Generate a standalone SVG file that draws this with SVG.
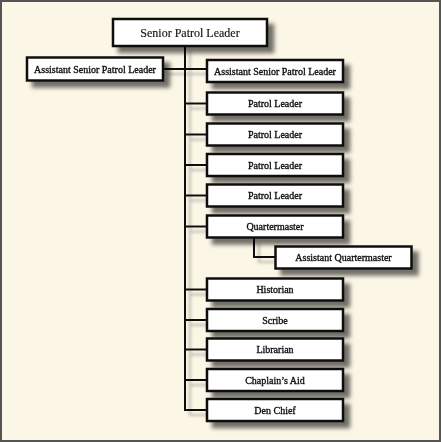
<svg xmlns="http://www.w3.org/2000/svg" width="441" height="442" viewBox="0 0 441 442">
<defs>
<filter id="sh" x="-20%" y="-40%" width="150%" height="200%">
<feDropShadow dx="6" dy="6" stdDeviation="2.2" flood-color="#000" flood-opacity="0.55"/>
</filter>
<filter id="lsh" x="-50%" y="-10%" width="300%" height="130%">
<feDropShadow dx="5" dy="5" stdDeviation="1.5" flood-color="#000" flood-opacity="0.25"/>
</filter>
</defs>
<style>
.box{fill:#fff;stroke:#111;stroke-width:2.5}
.t{font-family:"Liberation Serif","Times New Roman",serif;font-size:10px;fill:#111;stroke:#111;stroke-width:0.35;text-anchor:middle}
.big{font-size:12px;stroke-width:0.15}
.c{fill:none;stroke:#111;stroke-width:2}
</style>
<rect x="1" y="1" width="439" height="440" fill="#FCF6E6" stroke="#555" stroke-width="2"/>
<g id="connectors" filter="url(#lsh)">
<path class="c" d="M185 46V411"/>
<path class="c" d="M163 69H207"/>
<path class="c" d="M185 103.5H207M185 134.5H207M185 165H207M185 195.5H207M185 226.5H207M185 289.5H207M185 320H207M185 349.5H207M185 380H207M185 410H207"/>
<path class="c" d="M254 238V257H275"/>
</g>
<g id="spl" filter="url(#sh)"><rect class="box" x="113" y="19" width="154" height="27"/><text class="t big" x="190" y="36.5">Senior Patrol Leader</text></g>
<g id="aspl1" filter="url(#sh)"><rect class="box" x="27" y="57.5" width="136" height="23"/><text class="t" x="95" y="72.5">Assistant Senior Patrol Leader</text></g>
<g id="aspl2" filter="url(#sh)"><rect class="box" x="207" y="60" width="136" height="22"/><text class="t" x="275" y="74.5">Assistant Senior Patrol Leader</text></g>
<g id="pl1" filter="url(#sh)"><rect class="box" x="207" y="92.5" width="136" height="22"/><text class="t" x="275" y="107">Patrol Leader</text></g>
<g id="pl2" filter="url(#sh)"><rect class="box" x="207" y="123.5" width="136" height="22"/><text class="t" x="275" y="138">Patrol Leader</text></g>
<g id="pl3" filter="url(#sh)"><rect class="box" x="207" y="154" width="136" height="22"/><text class="t" x="275" y="168.5">Patrol Leader</text></g>
<g id="pl4" filter="url(#sh)"><rect class="box" x="207" y="184.5" width="136" height="22"/><text class="t" x="275" y="199">Patrol Leader</text></g>
<g id="qm" filter="url(#sh)"><rect class="box" x="207" y="215.5" width="136" height="22"/><text class="t" x="275" y="230">Quartermaster</text></g>
<g id="aqm" filter="url(#sh)"><rect class="box" x="275.5" y="246.5" width="136" height="22"/><text class="t" x="343.5" y="261">Assistant Quartermaster</text></g>
<g id="historian" filter="url(#sh)"><rect class="box" x="207" y="278.5" width="136" height="22"/><text class="t" x="275" y="293">Historian</text></g>
<g id="scribe" filter="url(#sh)"><rect class="box" x="207" y="309" width="136" height="22"/><text class="t" x="275" y="323.5">Scribe</text></g>
<g id="librarian" filter="url(#sh)"><rect class="box" x="207" y="338.5" width="136" height="22"/><text class="t" x="275" y="353">Librarian</text></g>
<g id="chaplain" filter="url(#sh)"><rect class="box" x="207" y="369" width="136" height="22"/><text class="t" x="275" y="383.5">Chaplain’s Aid</text></g>
<g id="denchief" filter="url(#sh)"><rect class="box" x="207" y="399" width="136" height="22"/><text class="t" x="275" y="413.5">Den Chief</text></g>
</svg>
